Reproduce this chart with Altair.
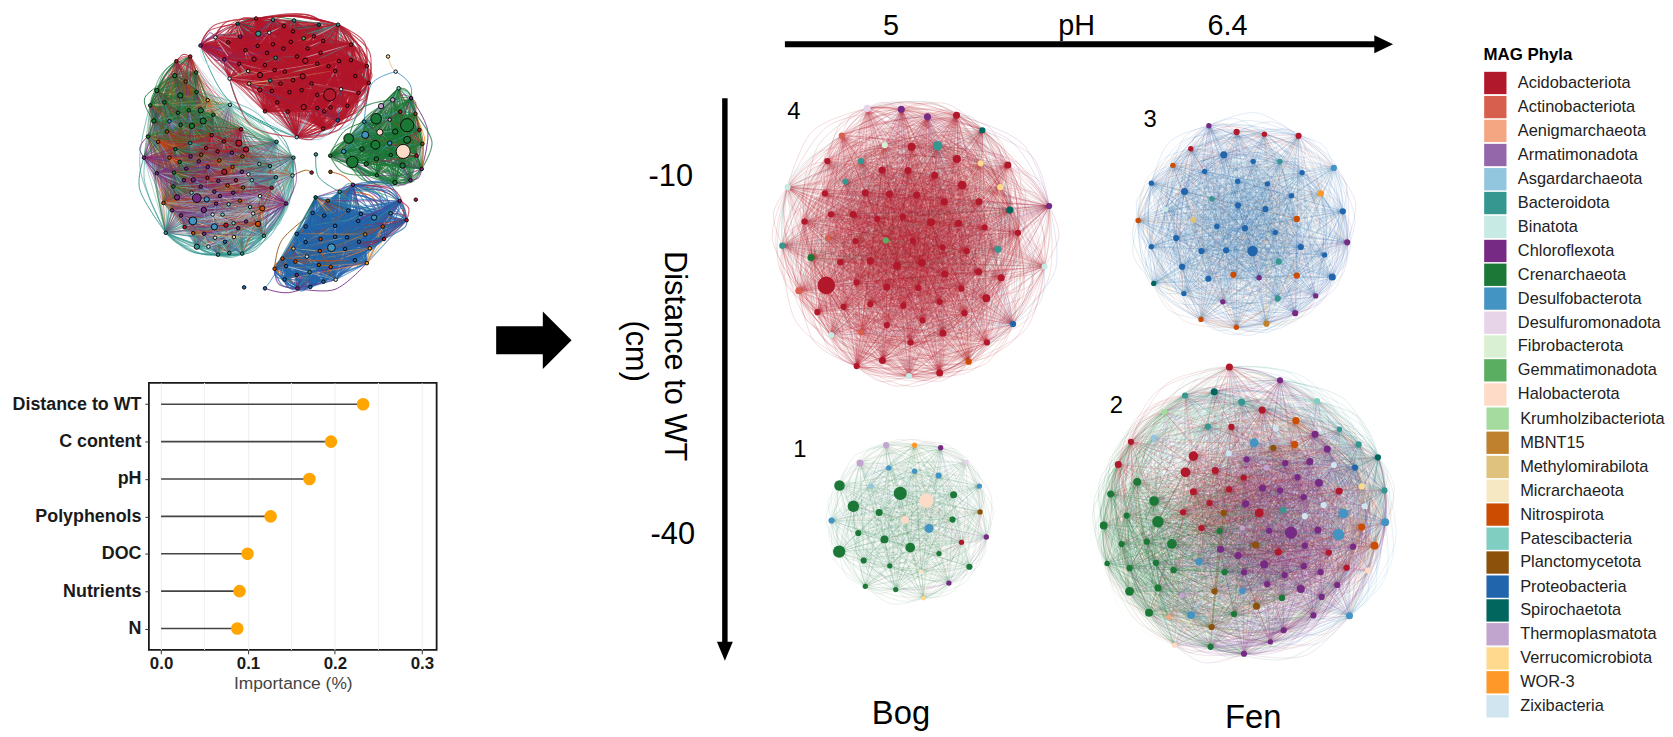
import altair as alt

PHYLA = [("Ac","Acidobacteriota","#b2182b"),("At","Actinobacteriota","#d6604d"),("Ae","Aenigmarchaeota","#f4a582"),
("Ar","Armatimonadota","#9467ab"),("As","Asgardarchaeota","#92c5de"),("Ba","Bacteroidota","#35978f"),
("Bi","Binatota","#c7eae5"),("Ch","Chloroflexota","#762a83"),("Cr","Crenarchaeota","#1b7837"),
("Db","Desulfobacterota","#4393c3"),("Dm","Desulfuromonadota","#e7d4e8"),("Fi","Fibrobacterota","#d9f0d3"),
("Ge","Gemmatimonadota","#5aae61"),("Ha","Halobacterota","#fddbc7"),("Kr","Krumholzibacteriota","#a6dba0"),
("Mb","MBNT15","#bf812d"),("Me","Methylomirabilota","#dfc27d"),("Mi","Micrarchaeota","#f6e8c3"),
("Ni","Nitrospirota","#cc4c02"),("Pa","Patescibacteria","#80cdc1"),("Pl","Planctomycetota","#8c510a"),
("Pr","Proteobacteria","#2166ac"),("Sp","Spirochaetota","#01665e"),("Th","Thermoplasmatota","#c2a5cf"),
("Ve","Verrucomicrobiota","#fed98e"),("Wo","WOR-3","#fe9929"),("Zi","Zixibacteria","#d1e5f0")]
COL = {k: c for k, _, c in PHYLA}
LEGEND_Y = [81.7,106,130,154.3,178.7,202.7,226.7,251,275,299,323.3,347.3,371.3,395.7,420,444.3,468.7,492.7,516.7,541,565,589.3,613.3,637.3,661.7,685.7,710]

NAMES = ["Distance to WT","C content","pH","Polyphenols","DOC","Nutrients","N"]
IMPORTANCE = [0.2324,0.1955,0.1707,0.126,0.0995,0.0903,0.0877]

N4 = [(297,52,4,"Dm"),(400,55,4,"Ch"),(479,77,4,"Ch"),(567,73,4,"Ac"),(645,118,3.5,"Sp"),(220,134,3.5,"At"),(350,163,3.5,"Fi"),(431,168,4.5,"Ac"),(510,165,5.5,"Ba"),(568,205,4.5,"Ac"),(176,211,3.5,"Ac"),(278,211,3.5,"Ba"),(640,218,3.5,"Ve"),(722,223,4,"Ac"),(342,238,4,"Ac"),(420,240,4,"Ac"),(501,254,4,"Ac"),(231,273,3.5,"Ba"),(584,284,5,"Ac"),(56,290,3.5,"Bi"),(699,290,3.5,"Ve"),(169,309,3.5,"Ac"),(291,307,4,"Ac"),(364,311,4,"Ac"),(446,314,4,"Ac"),(530,334,4,"Ac"),(635,334,4,"Ac"),(847,347,3.5,"Ch"),(728,359,4,"Sp"),(187,372,3.5,"Ac"),(254,373,4,"Ac"),(327,386,3.5,"Ac"),(405,379,3.5,"Ac"),(490,396,4.5,"Ac"),(573,399,4,"Ac"),(107,394,3.5,"Ac"),(652,412,3.5,"Ac"),(753,428,3.5,"Ac"),(178,444,3.5,"At"),(261,453,3.5,"Ac"),(353,451,3.5,"Ge"),(435,452,3.5,"Ac"),(525,472,3.5,"Ac"),(598,483,3.5,"Ac"),(692,478,4,"Ba"),(40,467,3.5,"Ba"),(127,503,4,"Cr"),(215,517,3.5,"Ac"),(306,513,4,"Ac"),(387,528,4.5,"Ac"),(462,519,4.5,"Ac"),(532,553,4,"Ac"),(634,546,4,"Ac"),(833,530,3.5,"Bi"),(702,564,4,"Ac"),(173,587,10,"Ac"),(265,578,3.5,"Ac"),(356,592,4,"Ac"),(451,595,3.5,"Ac"),(582,597,3.5,"Ac"),(90,603,4,"At"),(657,626,4.5,"Ac"),(225,652,3.5,"Ac"),(306,644,3.5,"Ac"),(406,649,3.5,"Ac"),(516,637,3.5,"Ac"),(146,668,3.5,"Ac"),(591,671,3.5,"Ac"),(356,708,3.5,"Ac"),(464,693,3.5,"Ac"),(738,704,3.5,"Pr"),(188,737,3.5,"Bi"),(278,729,3.5,"At"),(526,732,4,"Ac"),(428,760,3.5,"Ac"),(659,760,3.5,"Ac"),(343,814,4,"Ac"),(604,818,3.5,"Ni"),(265,831,3.5,"Ac"),(516,852,4,"Ac"),(423,861,3.5,"Bi")]
N3 = [(250,74,3,"Ch"),(334,93,3.5,"Ac"),(418,100,3,"Ac"),(521,105,3.5,"Ac"),(195,144,3,"Ac"),(295,162,4,"Pr"),(141,194,3,"Ni"),(384,182,3,"Pr"),(465,182,3,"Ba"),(628,202,3.5,"Db"),(237,212,3,"Pr"),(532,216,3,"Pr"),(76,248,3,"Pr"),(337,242,3,"Pr"),(427,250,3,"Pr"),(176,273,4,"Pr"),(589,279,3.5,"Wo"),(500,286,3,"Pr"),(259,295,3,"Ba"),(338,315,3.5,"Pr"),(421,326,3.5,"Pr"),(120,327,3,"Bi"),(655,333,3.5,"Pr"),(203,359,3.5,"Me"),(516,356,3.5,"Ni"),(36,361,3,"Ni"),(274,379,3,"Pr"),(359,384,3.5,"Pr"),(451,397,3,"Pr"),(151,414,3.5,"Pr"),(76,440,3,"Pr"),(668,427,3.5,"Ch"),(528,441,3.5,"Pr"),(227,453,3.5,"Pr"),(302,451,3.5,"Pr"),(382,453,6,"Pr"),(600,465,3,"Pr"),(461,485,3.5,"Ba"),(169,501,3.5,"Pr"),(324,525,3.5,"Ni"),(516,527,3.5,"Ni"),(402,534,3,"Ch"),(248,537,3.5,"Pr"),(623,532,4,"Pr"),(83,551,3,"Sp"),(174,582,3,"Pr"),(573,589,3,"Ch"),(458,597,3.5,"Ba"),(292,607,3,"Ch"),(511,641,3.5,"Ch"),(226,660,3,"Ni"),(333,684,3,"Ni"),(424,673,3.5,"Mb")]
N1 = [(294,50,3.5,"Th"),(380,50,3,"Wo"),(459,58,3,"Ch"),(215,104,4,"Th"),(536,102,3,"Dm"),(302,119,3,"Db"),(380,129,3,"Db"),(453,142,3.5,"Db"),(576,174,3,"Db"),(248,174,3,"As"),(153,172,6,"Cr"),(337,196,7.5,"Cr"),(416,218,8,"Ha"),(498,200,4,"Cr"),(195,235,6.5,"Cr"),(273,254,4,"Cr"),(578,252,3,"Pl"),(129,278,3.5,"Db"),(351,276,4.5,"Ha"),(495,275,3.5,"Cr"),(424,302,5,"Db"),(210,316,3.5,"Cr"),(597,328,3,"Ch"),(289,335,4.5,"Cr"),(522,344,3,"Ac"),(367,360,5.5,"Cr"),(152,372,7,"Cr"),(454,378,3,"Cr"),(226,399,3.5,"Cr"),(305,415,3,"Cr"),(546,418,3.5,"Cr"),(400,432,2.5,"Mi"),(484,467,3,"Ch"),(231,477,3,"Cr"),(323,487,3,"Cr"),(407,513,2.5,"Ve")]
N2 = [(432,24,4,"Ac"),(585,64,3.5,"Ch"),(386,99,4,"Sp"),(298,110,3.5,"Ba"),(469,130,4,"Ba"),(697,127,3.5,"Pa"),(235,160,3.5,"Kr"),(531,154,4,"Ac"),(633,186,4,"Ni"),(367,204,3.5,"Ba"),(438,205,3.5,"Ac"),(572,210,3.5,"Zi"),(765,212,3,"Ba"),(691,227,4,"Ch"),(203,238,3.5,"As"),(134,250,3.5,"Ac"),(507,253,5,"Db"),(629,258,4,"Ni"),(565,268,3.5,"Pl"),(728,272,4,"Ch"),(823,258,3.5,"Ba"),(323,293,5.5,"Ac"),(430,285,3.5,"Zi"),(881,297,3.5,"Sp"),(484,303,3.5,"Ch"),(675,310,4,"Ch"),(601,314,3.5,"Ch"),(96,319,4,"Ac"),(544,328,3.5,"Th"),(748,320,3.5,"Zi"),(812,328,3.5,"Pr"),(299,342,5.5,"Ac"),(389,337,4,"Ac"),(475,358,3.5,"Ac"),(638,357,3.5,"Ch"),(153,371,4.5,"Cr"),(703,374,4.5,"Ch"),(832,385,3.5,"Ve"),(73,408,4,"Cr"),(323,401,4,"Ac"),(431,394,3.5,"Ac"),(532,390,4,"Ch"),(585,397,3.5,"Ch"),(764,399,4,"Ac"),(901,397,3.5,"Ba"),(657,417,3.5,"Ch"),(204,429,5.5,"Cr"),(372,435,3.5,"Ac"),(481,437,4,"Ch"),(717,441,3.5,"Zi"),(841,445,3.5,"Zi"),(121,473,3.5,"Cr"),(292,463,3.5,"Ac"),(414,465,3.5,"Pl"),(522,465,5,"Ac"),(595,456,3.5,"Ba"),(660,475,3.5,"Zi"),(777,467,5.5,"Db"),(216,492,6.5,"Cr"),(903,493,4.5,"Db"),(52,503,4.5,"Cr"),(347,511,3.5,"Ac"),(402,520,3.5,"Cr"),(471,510,3,"Th"),(552,519,3.5,"Ch"),(618,525,7,"Ch"),(700,517,4,"Ch"),(762,530,6.5,"Db"),(832,508,4,"Ni"),(182,552,3.5,"Cr"),(258,559,5.5,"Cr"),(106,559,3.5,"Cr"),(511,562,4,"Pl"),(660,564,3.5,"Ch"),(806,567,3.5,"Ch"),(871,564,4.5,"Ni"),(405,575,4,"Ch"),(580,583,4,"Ac"),(733,585,3.5,"Ac"),(458,594,4,"Ch"),(340,613,4,"Db"),(537,621,4.5,"Ch"),(210,616,3.5,"Cr"),(62,618,3,"Cr"),(130,632,3.5,"Cr"),(263,638,3.5,"Cr"),(657,626,3.5,"Ch"),(787,631,3.5,"Ac"),(851,639,3.5,"Ha"),(417,644,3.5,"Cr"),(476,645,3.5,"Ch"),(708,644,3.5,"Ch"),(599,653,3.5,"Ch"),(546,681,3.5,"Ch"),(758,683,3.5,"Ch"),(648,695,4.5,"Ch"),(216,692,4,"Cr"),(130,702,5,"Cr"),(387,702,3.5,"Pl"),(289,714,3,"Th"),(472,701,3.5,"Db"),(711,719,3.5,"Ch"),(591,722,3.5,"Cr"),(514,747,4,"Pl"),(189,767,4.5,"Cr"),(249,780,3,"Ae"),(316,774,4.5,"Db"),(446,771,3.5,"Cr"),(686,775,3.5,"Ch"),(795,776,4,"Db"),(378,810,3.5,"Pl"),(596,820,3.5,"Ch"),(556,855,3,"Ch"),(266,865,3,"Ha"),(375,870,3.5,"Cr"),(476,891,3.5,"Ch")]

R = 2.0
TL_RED = [(213,123,R,"Ch"),(258,98,R,"Zi"),(325,57,R,"Sp"),(381,41,R,"Ac"),(432,45,R,"Ba"),(496,47,R,"Ba"),(571,60,R,"Sp"),(629,60,R,"Ba"),(388,87,3,"Ba"),(333,96,R,"Ch"),(421,84,R,"Dm"),(465,64,R,"Ac"),(493,80,R,"Ac"),(525,101,R,"Ge"),(556,95,R,"Ac"),(297,113,R,"Ac"),(386,124,R,"Ac"),(432,119,R,"Ac"),(486,112,R,"Ac"),(584,109,R,"Ac"),(349,137,R,"Ac"),(414,145,R,"Ac"),(464,132,R,"Ac"),(537,132,R,"Ac"),(576,145,R,"Ac"),(668,120,R,"Ac"),(285,165,R,"Ch"),(375,164,2.5,"Ac"),(440,160,R,"Ba"),(505,156,R,"Ac"),(530,169,3,"Ac"),(600,185,R,"Ac"),(330,178,R,"Ac"),(408,182,R,"Ac"),(357,200,R,"Me"),(437,197,R,"Ac"),(468,202,R,"Ac"),(566,178,R,"Ac"),(632,170,R,"Ac"),(668,167,R,"Ac"),(716,185,R,"Ac"),(301,223,R,"Zi"),(393,212,3,"Ac"),(522,216,3,"Ac"),(620,200,R,"Ac"),(681,215,R,"Ac"),(360,238,R,"Me"),(424,229,R,"Ba"),(455,238,R,"Ac"),(493,228,R,"Ac"),(549,238,R,"Ac"),(722,236,R,"Ac"),(392,257,2.5,"Ac"),(429,260,R,"Ac"),(482,264,R,"Ac"),(519,258,R,"Ac"),(566,272,R,"Ac"),(604,272,7,"Ac"),(638,255,R,"Zi"),(691,266,R,"Ac"),(445,295,R,"Ac"),(525,309,3,"Ac"),(408,322,R,"Ac"),(477,323,R,"Ac"),(566,312,R,"Ac"),(587,322,R,"Ac"),(606,310,R,"Ac"),(657,305,R,"Ac"),(628,349,R,"Pr"),(584,374,R,"Ac"),(504,400,R,"As")]
TL_GREEN = [(812,252,R,"Pa"),(759,306,3,"Th"),(794,287,2.5,"Th"),(850,282,R,"Ch"),(744,344,6,"Cr"),(817,323,R,"Ac"),(863,329,R,"Pl"),(708,353,R,"Db"),(785,347,R,"Th"),(838,364,7.5,"Cr"),(755,385,3.5,"Ha"),(802,383,3,"Cr"),(875,378,R,"Ac"),(711,393,4,"Db"),(661,404,5.5,"Cr"),(838,408,4,"Cr"),(884,420,R,"Pl"),(742,423,5,"Cr"),(785,418,2.5,"Db"),(701,436,2.5,"Cr"),(646,443,2.5,"Db"),(826,443,8,"Ha"),(605,456,R,"Cr"),(788,454,R,"Cr"),(866,456,R,"Ac"),(745,466,2.5,"Cr"),(672,475,6.5,"Cr"),(714,481,2.5,"Cr"),(824,486,3,"Cr"),(882,496,R,"Ch"),(746,515,R,"Cr"),(801,537,2.5,"Cr"),(848,530,R,"Ch")]
TL_BLUE = [(674,544,R,"Ch"),(634,565,R,"Ba"),(598,592,R,"Pl"),(561,582,R,"Sp"),(552,629,R,"Pr"),(587,637,R,"Pr"),(660,622,R,"Pr"),(698,632,R,"Pr"),(738,643,3,"Db"),(788,630,R,"Ba"),(815,593,R,"Ch"),(836,651,R,"Ac"),(531,670,R,"Pr"),(620,668,R,"Pr"),(690,653,R,"Pr"),(764,670,R,"Ni"),(504,692,R,"Pr"),(576,708,R,"Ni"),(620,701,R,"Pr"),(656,703,R,"Pr"),(711,694,R,"Mb"),(768,708,R,"Ac"),(531,717,R,"Pr"),(494,737,R,"Me"),(609,734,4.5,"Db"),(650,738,R,"Pr"),(692,716,R,"Pr"),(725,736,R,"Wo"),(574,744,R,"Ni"),(535,761,R,"Zi"),(461,767,R,"Ni"),(500,776,R,"Ni"),(680,772,R,"Pr"),(716,781,R,"Wo"),(571,786,R,"Pl"),(607,792,R,"Ni"),(437,798,R,"Ni"),(472,790,R,"Pr"),(543,808,R,"Ba"),(504,817,R,"Ch"),(585,837,R,"Pr"),(622,831,R,"Zi"),(467,830,R,"Pr"),(506,857,R,"Ch"),(545,853,R,"Pr")]
TL_LEFT = [(140,170,R,"Ac"),(182,156,R,"Ac"),(135,214,2.5,"Cr"),(200,204,R,"Cr"),(81,259,2.5,"Cr"),(168,232,R,"Pl"),(152,274,3,"Cr"),(201,264,R,"Cr"),(235,288,R,"Wo"),(61,304,R,"Cr"),(104,295,R,"Cr"),(302,302,R,"Pa"),(214,319,3,"Cr"),(145,326,R,"Cr"),(178,319,R,"Cr"),(252,332,R,"Cr"),(72,351,2.5,"Cr"),(119,352,R,"Db"),(221,351,3.5,"Cr"),(153,363,R,"Cr"),(187,366,3,"Cr"),(336,376,R,"Ac"),(112,383,R,"Pl"),(54,398,R,"Cr"),(85,414,R,"Ni"),(247,394,R,"Ac"),(182,418,R,"Ba"),(329,418,3.5,"Ac"),(284,413,R,"Ac"),(443,414,R,"Ba"),(351,437,3,"Ac"),(230,433,R,"Ac"),(137,436,R,"Cr"),(265,443,R,"Ac"),(42,462,R,"Ch"),(183,458,R,"Ch"),(119,462,R,"Ni"),(215,453,R,"Pl"),(308,447,R,"Ch"),(340,458,R,"Pl"),(494,462,R,"Ba"),(150,475,R,"Cr"),(208,473,R,"Ch"),(270,470,R,"Ni"),(170,495,R,"Ch"),(391,481,R,"Pa"),(423,487,R,"Ba"),(81,509,R,"Ch"),(133,507,R,"Cr"),(235,490,R,"Ch"),(285,505,3,"Ac"),(310,490,R,"Ni"),(338,505,R,"Ch"),(358,512,R,"Zi"),(491,516,R,"Pa"),(441,521,R,"Ba"),(163,530,R,"Ch"),(191,529,2.5,"Ch"),(234,523,R,"Ac"),(267,532,R,"Ch"),(320,530,R,"Ac"),(368,530,R,"Pa"),(131,549,R,"Cr"),(214,549,R,"Ch"),(295,546,R,"Ni"),(342,552,R,"Pl"),(428,553,R,"Ac"),(255,565,R,"Ch"),(186,568,R,"Pa"),(312,568,R,"Ch"),(142,582,3,"Ch"),(202,584,5,"Ch"),(232,588,3,"Db"),(272,578,R,"Ch"),(393,578,R,"Zi"),(101,599,R,"Ni"),(332,592,R,"Ni"),(298,603,R,"Pa"),(260,601,R,"Ch"),(472,601,R,"Ch"),(400,615,3,"Ni"),(127,621,R,"Ch"),(223,620,3,"Ch"),(363,611,R,"Pa"),(154,637,R,"Ch"),(280,634,R,"Pa"),(250,634,R,"Zi"),(372,631,R,"Zi"),(190,653,4.5,"Db"),(351,655,R,"Ch"),(313,660,R,"Pa"),(290,666,2.5,"Ac"),(255,671,3.5,"Db"),(165,672,R,"Ac"),(387,662,3,"Ni"),(327,675,R,"Ch"),(108,689,R,"Ba"),(191,690,R,"Ni"),(224,692,R,"Ch"),(257,704,R,"Zi"),(314,702,R,"Ve"),(405,698,R,"Ba"),(287,716,R,"Pr"),(202,731,3,"Ba"),(237,731,R,"Zi"),(266,755,R,"Ba"),(300,750,R,"Ba"),(339,752,R,"Ba")]
TL_LOOSE = [(780,156,R,"Ve"),(803,202,R,"Zi"),(562,452,R,"Ba"),(549,507,R,"Ac"),(606,505,R,"Pl"),(864,589,R,"Ac"),(345,854,R,"Pr"),(408,857,R,"Pr")]
TL_ARCS = [("Ch",[(213,123),(240,85),(258,98)]),("Ch",[(213,123),(255,165),(285,165)]),("Ba",[(213,123),(300,290),(504,400)]),("Ba",[(301,223),(350,330),(504,400)]),
("Cr",[(325,57),(430,36),(571,60)]),("Ac",[(604,60),(700,130),(722,236)]),("At",[(407,322),(480,375),(584,374)]),("Db",[(504,400),(570,390),(628,349)]),("At",[(258,98),(330,45),(432,45)]),
("Me",[(780,156),(790,185),(803,202)]),("Db",[(708,353),(730,240),(803,202)]),("Db",[(803,202),(850,250),(838,364)]),("Ch",[(850,282),(900,380),(882,496)]),("Wo",[(863,329),(890,400),(884,420)]),("Cr",[(605,456),(680,490),(746,515)]),("Cr",[(605,456),(650,380),(744,344)]),
("Ba",[(562,452),(570,520),(634,565)]),("Ni",[(606,505),(650,520),(700,570)]),("Ch",[(674,544),(770,555),(815,593)]),("Ac",[(674,544),(790,575),(836,651)]),("Ac",[(836,651),(790,660),(768,708)]),("Pl",[(552,629),(460,710),(437,798)]),("Db",[(408,857),(440,810),(504,692)]),("Ch",[(408,857),(480,870),(585,837)]),("Ch",[(506,857),(620,860),(716,781)]),
("Ba",[(108,689),(30,560),(42,462)]),("Ba",[(108,689),(200,750),(339,752)]),("Ba",[(266,755),(380,740),(472,601)]),("Ba",[(302,302),(460,400),(494,516)]),("Pl",[(491,516),(530,500),(549,507)]),("Ac",[(140,170),(160,150),(182,156)]),("Cr",[(72,351),(45,280),(135,214)]),("Ch",[(54,398),(30,440),(81,509)])]

# ---------- helpers ----------
def nodes(lst, ox, oy):
    return [{"x": round(ox + p[0] / 3, 1), "y": round(oy + p[1] / 3, 1), "s": round(3.1416 * p[2] ** 2, 1), "c": COL[p[3]]} for p in lst]

def geometry(lst):
    cx = sum(p[0] for p in lst) / len(lst)
    cy = sum(p[1] for p in lst) / len(lst)
    rad = max(((p[0] - cx) ** 2 + (p[1] - cy) ** 2) ** 0.5 for p in lst)
    return cx, cy, rad

def is_rim(p, g, ring=0.62):
    return ((p[0] - g[0]) ** 2 + (p[1] - g[1]) ** 2) ** 0.5 > ring * g[2]

def edge_colour(a, b, k, dom):
    if dom and k % 3:
        return COL[dom]
    return COL[a[3] if k % 2 else b[3]]

def edges(lst, ox, oy, cutoff=None, reach=1.1, dom=None):
    g = geometry(lst)
    out = []
    for i, a in enumerate(lst):
        for j in range(i + 1, len(lst)):
            b = lst[j]
            d = ((a[0] - b[0]) ** 2 + (a[1] - b[1]) ** 2) ** 0.5
            if cutoff and d > cutoff:
                continue
            if is_rim(a, g) and is_rim(b, g) and d <= reach * g[2]:
                continue  # drawn as an arc by hull_curves
            out.append({"x": round(ox + a[0] / 3, 1), "y": round(oy + a[1] / 3, 1), "x2": round(ox + b[0] / 3, 1), "y2": round(oy + b[1] / 3, 1), "c": edge_colour(a, b, i + j, dom)})
    return out

def hull_curves(lst, ox, oy, reach=1.1, bulges=(0.2,), miny=33, dom=None):
    """Edges between rim nodes are routed as outward arcs, the way the network layout draws them."""
    g = geometry(lst)
    cx, cy = g[0], g[1]
    rim = [p for p in lst if is_rim(p, g)]
    out, n = [], 0
    for i, a in enumerate(rim):
        for b in rim[i + 1:]:
            d = ((a[0] - b[0]) ** 2 + (a[1] - b[1]) ** 2) ** 0.5
            if d > reach * g[2]:
                continue
            mx, my = (a[0] + b[0]) / 2, (a[1] + b[1]) / 2
            ml = ((mx - cx) ** 2 + (my - cy) ** 2) ** 0.5 or 1
            for bulge in bulges:
                px, py = mx + (mx - cx) / ml * d * bulge, max(miny, my + (my - cy) / ml * d * bulge)
                c = edge_colour(a, b, n, dom)
                for k, (qx, qy) in enumerate([(a[0], a[1]), (px, py), (b[0], b[1])]):
                    out.append({"x": round(ox + qx / 3, 1), "y": round(oy + qy / 3, 1), "o": k, "id": n, "c": c})
                n += 1
    return out

def enc(xs, ys):
    return dict(x=alt.X("x:Q", scale=xs, axis=None), y=alt.Y("y:Q", scale=ys, axis=None))

def edge_layer(rows, xs, ys, w, o):
    return alt.Chart(alt.Data(values=rows)).mark_rule(strokeWidth=w, opacity=o).encode(
        x2="x2:Q", y2="y2:Q", color=alt.Color("c:N", scale=None), **enc(xs, ys))

def curve_layer(rows, xs, ys, w, o):
    return alt.Chart(alt.Data(values=rows)).mark_line(strokeWidth=w, opacity=o, interpolate="cardinal").encode(
        order="o:Q", detail="id:N", color=alt.Color("c:N", scale=None), **enc(xs, ys))

def node_layer(rows, xs, ys, stroke=None):
    kw = dict(stroke=stroke, strokeWidth=0.9) if stroke else {}
    return alt.Chart(alt.Data(values=rows)).mark_circle(opacity=1, **kw).encode(
        size=alt.Size("s:Q", scale=None), color=alt.Color("c:N", scale=None), **enc(xs, ys))

def text_layer(rows, xs, ys, **kw):
    return alt.Chart(alt.Data(values=rows)).mark_text(font="Liberation Sans", **kw).encode(text="t:N", **enc(xs, ys))

# ---------- top-left network ----------
xa = alt.Scale(domain=[149, 480], nice=False, zero=False)
ya = alt.Scale(domain=[381, 8], nice=False, zero=False)
TOX, TOY = 130, 0
arc_rows = [{"x": TOX + p[0] / 3, "y": TOY + p[1] / 3, "o": k, "id": n, "c": COL[code]} for n, (code, pts) in enumerate(TL_ARCS) for k, p in enumerate(pts)]
top_net = alt.layer(
    curve_layer(arc_rows, xa, ya, 0.9, 1),
    curve_layer(hull_curves(TL_LEFT, TOX, TOY, bulges=(0.14, 0.04)), xa, ya, 1.1, 0.55),
    curve_layer(hull_curves(TL_RED, TOX, TOY, bulges=(0.24, 0.08), dom="Ac"), xa, ya, 1.2, 0.7),
    curve_layer(hull_curves(TL_GREEN, TOX, TOY, bulges=(0.24, 0.08), dom="Cr"), xa, ya, 1.2, 0.7),
    curve_layer(hull_curves(TL_BLUE, TOX, TOY, bulges=(0.3, 0.1), dom="Pr"), xa, ya, 1.2, 0.7),
    edge_layer(edges(TL_LEFT, TOX, TOY, 330), xa, ya, 0.9, 0.42),
    edge_layer(edges(TL_RED, TOX, TOY, dom="Ac"), xa, ya, 1.1, 0.6),
    edge_layer(edges(TL_GREEN, TOX, TOY, dom="Cr"), xa, ya, 1.1, 0.6),
    edge_layer(edges(TL_BLUE, TOX, TOY, dom="Pr"), xa, ya, 1.1, 0.6),
    node_layer(nodes(TL_LEFT + TL_RED + TL_GREEN + TL_BLUE + TL_LOOSE, TOX, TOY), xa, ya, "black"),
).properties(width=331, height=373)

# ---------- lollipop ----------
lol_rows = [{"n": n, "v": v, "z": 0} for n, v in zip(NAMES, IMPORTANCE)]
xl = alt.X("v:Q", scale=alt.Scale(domain=[-0.014, 0.317], nice=False, zero=False),
           axis=alt.Axis(values=[0, 0.1, 0.2, 0.3], format=".1f", title="Importance (%)", titleFont="Liberation Sans", titleFontSize=17.5,
                         titleFontWeight="normal", titleColor="#444444", titlePadding=3, labelFont="Liberation Sans", labelFontSize=17,
                         labelFontWeight="bold", labelColor="#1a1a1a", tickSize=4, tickColor="#333333", domain=False, gridColor="#eeeeee", labelFlush=False))
yl = alt.Y("n:N", sort=NAMES, scale=alt.Scale(type="point", padding=0.57),
           axis=alt.Axis(title=None, labelFont="Liberation Sans", labelFontSize=18, labelFontWeight="bold", labelColor="#1a1a1a",
                         tickSize=4, tickColor="#333333", domain=False, gridColor="#f2f2f2", labelPadding=4))
minor = alt.Chart(alt.Data(values=[{"v": 0.05}, {"v": 0.15}, {"v": 0.25}])).mark_rule(color="#f2f2f2", strokeWidth=1).encode(x=xl)
stems = alt.Chart(alt.Data(values=lol_rows)).mark_rule(color="#444444", strokeWidth=1.6).encode(x=xl, x2="z:Q", y=yl)
dots = alt.Chart(alt.Data(values=lol_rows)).mark_circle(color="#ffa500", size=160, opacity=1).encode(x=xl, y=yl)
lolli = alt.layer(minor, stems, dots).properties(width=290, height=269, view=alt.ViewConfig(stroke="#1a1a1a", strokeWidth=1.8))

# ---------- main canvas ----------
xb = alt.Scale(domain=[480, 1665], nice=False, zero=False)
yb = alt.Scale(domain=[732, 11], nice=False, zero=False)
layers = [
    curve_layer(hull_curves(N4, 770, 90, bulges=(0.2, 0.05), dom="Ac"), xb, yb, 0.7, 0.22),
    curve_layer(hull_curves(N3, 1130, 100, bulges=(0.2, 0.05), dom="Pr"), xb, yb, 0.7, 0.18),
    curve_layer(hull_curves(N1, 790, 430, bulges=(0.2, 0.05), dom="Cr"), xb, yb, 0.7, 0.15),
    curve_layer(hull_curves(N2, 1090, 360, bulges=(0.2, 0.05)), xb, yb, 0.7, 0.18),
    edge_layer(edges(N4, 770, 90, dom="Ac"), xb, yb, 0.8, 0.15),
    edge_layer(edges(N3, 1130, 100, dom="Pr"), xb, yb, 0.8, 0.12),
    edge_layer(edges(N1, 790, 430, dom="Cr"), xb, yb, 0.8, 0.11),
    edge_layer(edges(N2, 1090, 360, 430), xb, yb, 0.8, 0.16),
    node_layer(nodes(N4, 770, 90) + nodes(N3, 1130, 100) + nodes(N1, 790, 430) + nodes(N2, 1090, 360), xb, yb),
]
# arrows
arrow_rows = [{"x": 786, "x2": 1385, "y": 42.7, "y2": 42.7, "w": 6}, {"x": 725.5, "x2": 725.5, "y": 97, "y2": 650, "w": 5.5}, {"x": 495, "x2": 545, "y": 341, "y2": 341, "w": 28}]
for a in arrow_rows:
    layers.append(alt.Chart(alt.Data(values=[a])).mark_rule(color="black", strokeWidth=a["w"]).encode(x2="x2:Q", y2="y2:Q", **enc(xb, yb)))
layers.append(alt.Chart(alt.Data(values=[{"x": 1389.5, "y": 42.7}])).mark_point(shape="M-1.05,-1L1.05,0L-1.05,1Z", size=324, filled=True, color="black", opacity=1).encode(**enc(xb, yb)))
layers.append(alt.Chart(alt.Data(values=[{"x": 725.5, "y": 654.5}])).mark_point(shape="M-1,-1.2L1,-1.2L0,1.2Z", size=256, filled=True, color="black", opacity=1).encode(**enc(xb, yb)))
layers.append(alt.Chart(alt.Data(values=[{"x": 556.5, "y": 341}])).mark_point(shape="M-0.5,-1L0.5,0L-0.5,1Z", size=3364, filled=True, color="black", opacity=1).encode(**enc(xb, yb)))
# big labels
layers.append(text_layer([{"x": 893, "y": 33, "t": "5"}, {"x": 1080, "y": 33, "t": "pH"}, {"x": 1232, "y": 33, "t": "6.4"}], xb, yb, fontSize=29, align="center", baseline="alphabetic", color="black"))
layers.append(text_layer([{"x": 671, "y": 177, "t": "-10"}, {"x": 673, "y": 537, "t": "-40"}], xb, yb, fontSize=31, align="center", baseline="middle", color="black"))
layers.append(text_layer([{"x": 674, "y": 357, "t": "Distance to WT"}, {"x": 635, "y": 352, "t": "(cm)"}], xb, yb, fontSize=31, angle=90, align="center", baseline="middle", color="black"))
layers.append(text_layer([{"x": 903, "y": 718, "t": "Bog"}, {"x": 1258, "y": 722, "t": "Fen"}], xb, yb, fontSize=33, align="center", baseline="middle", color="black"))
layers.append(text_layer([{"x": 795, "y": 111, "t": "4"}, {"x": 1154, "y": 119, "t": "3"}, {"x": 801, "y": 452, "t": "1"}, {"x": 1120, "y": 407, "t": "2"}], xb, yb, fontSize=24, align="center", baseline="middle", color="black"))
# legend
leg_rows = [{"x": 1502 if i < 14 else 1504.3, "tx": 1524.7 if i < 14 else 1527, "y": y, "t": n, "c": c} for i, ((_, n, c), y) in enumerate(zip(PHYLA, LEGEND_Y))]
layers.append(alt.Chart(alt.Data(values=leg_rows)).mark_square(size=506, opacity=1).encode(color=alt.Color("c:N", scale=None), **enc(xb, yb)))
layers.append(alt.Chart(alt.Data(values=leg_rows)).mark_text(font="Liberation Sans", fontSize=16.5, align="left", baseline="middle", color="#222222").encode(
    x=alt.X("tx:Q", scale=xb, axis=None), y=alt.Y("y:Q", scale=yb, axis=None), text="t:N"))
layers.append(text_layer([{"x": 1490, "y": 54, "t": "MAG Phyla"}], xb, yb, fontSize=17, fontWeight="bold", align="left", baseline="middle", color="black"))
main = alt.layer(*layers).properties(width=1185, height=721)

left = alt.vconcat(top_net, lolli, spacing=0, bounds="flush")
chart = alt.hconcat(left, main, spacing=335, bounds="flush").properties(
    padding={"left": 3, "top": 0, "right": 0, "bottom": 0}, background="white"
).configure_view(stroke=None)

chart.save("out.html", embed_options={"renderer": "svg", "actions": False})
